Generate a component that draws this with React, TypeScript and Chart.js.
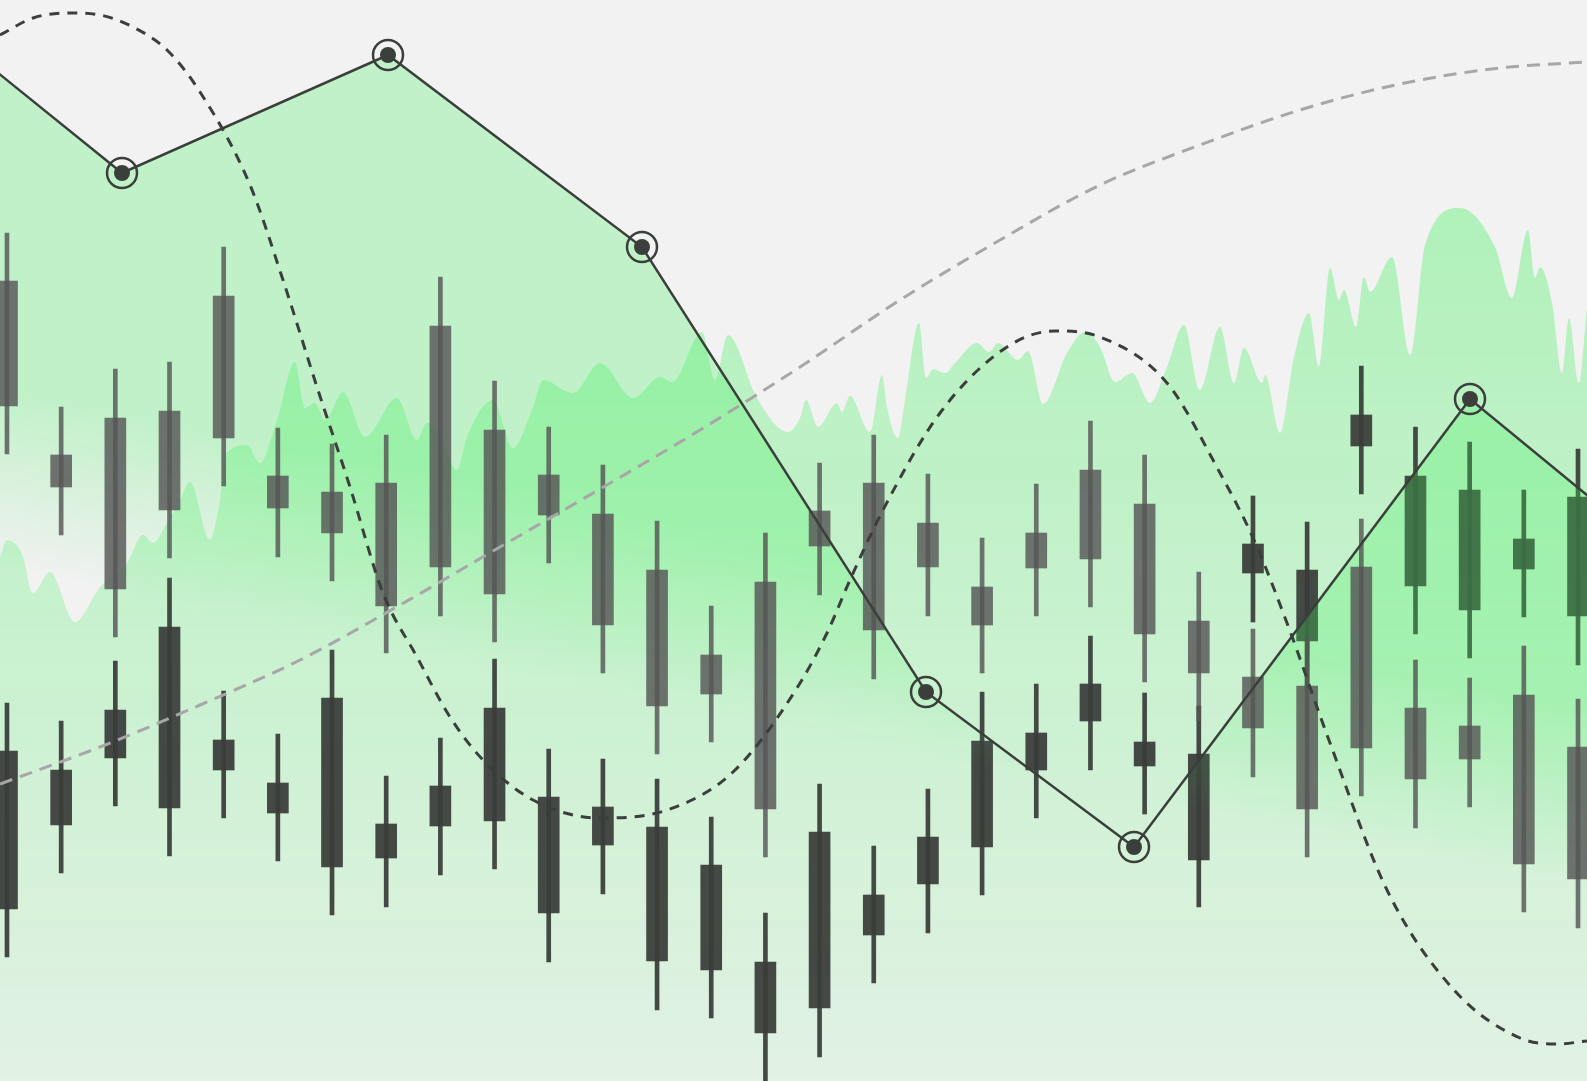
import React, { useEffect, useRef } from 'react';
import { Chart, registerables } from 'chart.js';

Chart.register(...registerables);

// ---- candlestick sessions ----
const sessions = [0, 1, 2, 3, 4, 5, 6, 7, 8, 9, 10, 11, 12, 13, 14, 15, 16, 17, 18, 19, 20, 21, 22, 23, 24, 25, 26, 27, 28, 29];

// upper (grey) candle series
const greyHigh = [84.8, 67.4, 71.2, 71.9, 83.4, 65.3, 63.7, 64.6, 80.4, 70.0, 65.4, 61.6, 56.0, 47.5, 54.8, 61.8, 64.6, 60.7, 54.3, 59.7, 66.0, 62.6, 50.9, 45.2, 44.4, 56.2, 42.1, 40.3, 43.5, 38.2];
const greyOpen = [80.0, 62.6, 66.3, 67.0, 78.5, 60.5, 58.9, 59.8, 75.5, 65.1, 60.6, 56.7, 51.1, 42.6, 49.9, 57.0, 59.8, 55.8, 49.4, 54.8, 61.1, 57.7, 46.0, 40.4, 39.5, 51.4, 37.3, 35.5, 38.6, 33.4];
const greyClose = [67.5, 59.4, 49.2, 57.1, 64.3, 57.3, 54.8, 47.5, 51.4, 48.7, 56.6, 45.6, 37.5, 38.7, 27.2, 53.5, 45.1, 51.4, 45.6, 51.3, 52.2, 44.7, 40.8, 35.3, 27.2, 33.3, 30.2, 32.2, 21.7, 20.2];
const greyLow = [62.7, 54.6, 44.4, 52.3, 59.5, 52.4, 50.0, 42.8, 46.5, 43.9, 51.8, 40.8, 32.7, 33.9, 22.4, 48.6, 40.2, 46.5, 40.8, 46.5, 47.4, 39.9, 36.0, 30.4, 22.4, 28.5, 25.3, 27.4, 16.9, 15.3];

// lower (dark) candle series
const darkHigh = [37.8, 36.0, 42.0, 50.3, 39.0, 34.7, 43.1, 30.5, 34.3, 42.2, 33.2, 32.2, 30.2, 26.4, 16.8, 29.7, 23.5, 29.2, 38.9, 39.7, 44.5, 38.8, 37.5, 58.5, 55.9, 71.5, 65.4, 63.9, 59.1, 63.2];
const darkOpen = [33.0, 31.1, 37.1, 45.4, 34.1, 29.8, 38.3, 25.7, 29.5, 37.3, 28.4, 27.4, 25.4, 21.6, 11.9, 24.9, 18.6, 24.4, 34.0, 34.8, 39.7, 33.9, 32.7, 53.7, 51.1, 66.6, 60.5, 59.1, 54.2, 58.4];
const darkClose = [17.2, 25.6, 32.3, 27.3, 31.1, 26.8, 21.4, 22.3, 25.5, 26.0, 16.8, 23.6, 12.0, 11.1, 4.8, 7.3, 14.6, 19.7, 23.4, 31.1, 36.0, 31.5, 22.1, 50.8, 44.0, 63.5, 49.5, 47.1, 51.2, 46.5];
const darkLow = [12.4, 20.8, 27.5, 22.5, 26.3, 22.0, 16.6, 17.4, 20.6, 21.2, 11.9, 18.7, 7.1, 6.3, -0.5, 2.4, 9.8, 14.8, 18.6, 26.3, 31.1, 26.7, 17.4, 45.9, 39.2, 58.7, 44.7, 42.3, 46.4, 41.6];

// ---- noisy background area ----
const noiseT = [0.0, 0.7, 1.8, 2.3, 3.3, 5.0, 7.5, 10.0, 12.7, 14.3, 15.3, 16.7, 18.0, 19.0, 21.0, 22.0, 22.7, 24.7, 26.0, 27.7, 29.5, 30.5, 31.5, 32.5, 34.3, 36.5, 39.7, 41.7, 42.7, 44.0, 45.7, 46.7, 49.3, 51.3, 53.3, 54.3, 57.3, 60.0, 63.3, 66.0, 67.2, 70.2, 71.5, 72.8, 75.7, 78.8, 80.0, 80.6, 81.8, 83.7, 84.2, 85.0, 87.0, 88.2, 88.7, 89.8, 90.5, 91.9, 92.6, 93.3, 94.5, 95.5, 97.7, 98.9, 99.8, 101.8, 102.8, 104.3, 106.7, 108.5, 110.0, 111.5, 113.2, 115.0, 116.7, 118.4, 120.0, 122.0, 123.4, 124.4, 126.2, 126.5, 128.0, 129.4, 130.9, 131.9, 133.0, 133.9, 134.4, 135.6, 136.4, 137.0, 139.2, 141.0, 142.5, 146.0, 149.5, 151.2, 152.8, 153.5, 154.0, 155.2, 156.2, 156.9, 157.9, 158.7];
const noiseV = [52.4, 54.1, 53.4, 52.4, 48.8, 50.9, 45.9, 49.4, 51.8, 54.6, 53.8, 55.8, 58.1, 59.9, 54.1, 58.1, 62.8, 63.6, 61.8, 66.1, 71.9, 67.3, 67.8, 66.1, 68.9, 64.4, 68.3, 64.1, 65.8, 64.8, 61.1, 64.4, 68.1, 63.3, 67.4, 70.1, 68.8, 71.8, 68.3, 70.4, 69.9, 74.9, 70.1, 74.6, 68.3, 64.9, 66.3, 68.1, 65.4, 67.8, 66.9, 68.5, 64.9, 70.6, 67.4, 64.3, 68.1, 75.8, 70.3, 71.2, 70.8, 71.8, 73.8, 72.9, 73.8, 72.1, 73.0, 67.7, 72.8, 74.9, 73.4, 69.9, 70.8, 67.8, 71.4, 75.6, 69.1, 75.4, 69.8, 73.3, 69.8, 70.6, 64.8, 72.4, 76.8, 71.4, 81.3, 78.1, 79.1, 75.4, 80.4, 78.9, 82.4, 72.6, 83.6, 87.3, 83.4, 78.3, 85.1, 80.3, 81.4, 77.8, 70.8, 76.3, 69.8, 77.4];

// ---- polyline with ringed markers ----
const polyT = [-12.7, 12.2, 38.8, 64.2, 92.6, 113.4, 147.0, 170.0];
const polyV = [110.9, 90.8, 102.6, 83.4, 38.9, 23.4, 68.2, 49.3];

// ---- dark dashed wave ----
const waveT = [0, 3.3, 6.7, 10.0, 13.3, 16.7, 20.0, 25.0, 28.3, 31.7, 35.0, 38.3, 41.7, 45.0, 48.3, 53.3, 60.0, 66.7, 73.3, 79.7, 82.7, 85.0, 88.3, 94.0, 100.7, 105.5, 110.0, 116.7, 122.0, 125.4, 128.7, 133.0, 138.7, 145.4, 152.0, 155.7, 158.7];
const waveV = [104.6, 106.3, 106.8, 106.6, 105.4, 103.1, 98.9, 89.6, 80.1, 69.4, 59.4, 48.8, 42.4, 36.4, 32.1, 28.1, 26.3, 27.1, 30.9, 39.3, 44.8, 50.1, 57.1, 66.8, 73.4, 75.0, 74.4, 69.8, 60.8, 54.1, 45.8, 33.8, 19.1, 9.1, 4.3, 3.7, 4.0];

// ---- grey dashed trend ----
const trendT = [0, 10, 20, 30, 40, 50, 60, 70, 80, 90, 100, 110, 120, 130, 140, 150, 158.7];
const trendV = [29.7, 33.4, 37.6, 42.1, 47.6, 53.4, 59.2, 65.1, 71.4, 78.1, 84.1, 89.6, 93.6, 97.1, 99.7, 101.3, 101.9];

const pts = (t: number[], v: number[]) => t.map((x, i) => ({ x, y: v[i] }));
const range = (lo: number[], hi: number[]) => sessions.map((s, i) => ({ x: s, y: [lo[i], hi[i]] }));

const DARK = '#3b3f3b';
const GREEN = '62,240,90';

export default function App() {
  const ref = useRef<HTMLCanvasElement | null>(null);

  useEffect(() => {
    if (!ref.current) return;

    const noiseFill = (context: any) => {
      const { chart } = context;
      const a = chart.chartArea;
      if (!a) return `rgba(${GREEN},0.25)`;
      const h = a.bottom - a.top;
      const g = chart.ctx.createLinearGradient(0, a.top + 0.185 * h, 0, a.bottom);
      g.addColorStop(0, `rgba(${GREEN},0.37)`);
      g.addColorStop(1, `rgba(${GREEN},0.09)`);
      return g;
    };

    const polyFill = (context: any) => {
      const { chart } = context;
      const a = chart.chartArea;
      if (!a) return `rgba(${GREEN},0.2)`;
      const w = a.right - a.left;
      const h = a.bottom - a.top;
      const g = chart.ctx.createLinearGradient(
        a.left + 0.5109 * w, a.top + 0.5107 * h,
        a.left + 0.4891 * w, a.top + 0.671 * h
      );
      g.addColorStop(0, `rgba(${GREEN},0.27)`);
      g.addColorStop(1, `rgba(${GREEN},0)`);
      return g;
    };

    const chart = new Chart(ref.current, {
      type: 'bar',
      data: {
        datasets: [
          {
            type: 'line',
            order: 0,
            data: pts(polyT, polyV),
            xAxisID: 'x',
            yAxisID: 'y',
            borderColor: DARK,
            borderWidth: 2.5,
            tension: 0,
            fill: false,
            pointRadius: 8,
            pointBackgroundColor: DARK,
            pointBorderWidth: 0,
          } as any,
          {
            type: 'line',
            order: 1,
            data: pts(polyT, polyV),
            xAxisID: 'x',
            yAxisID: 'y',
            showLine: false,
            fill: false,
            pointRadius: 15,
            pointBackgroundColor: 'rgba(0,0,0,0)',
            pointBorderColor: DARK,
            pointBorderWidth: 2.5,
          } as any,
          {
            type: 'line',
            order: 2,
            data: pts(waveT, waveV),
            xAxisID: 'x',
            yAxisID: 'y',
            borderColor: DARK,
            borderWidth: 3,
            borderDash: [10, 8],
            cubicInterpolationMode: 'monotone',
            fill: false,
            pointRadius: 0,
          } as any,
          {
            type: 'line',
            order: 3,
            data: pts(trendT, trendV),
            xAxisID: 'x',
            yAxisID: 'y',
            borderColor: '#a7a7a7',
            borderWidth: 3,
            borderDash: [13, 8],
            cubicInterpolationMode: 'monotone',
            fill: false,
            pointRadius: 0,
          } as any,
          {
            type: 'bar',
            order: 4,
            data: range(greyClose, greyOpen),
            xAxisID: 'xc',
            yAxisID: 'y',
            backgroundColor: 'rgba(86,86,86,0.82)',
            barThickness: 21,
            grouped: false,
          } as any,
          {
            type: 'bar',
            order: 5,
            data: range(greyLow, greyHigh),
            xAxisID: 'xc',
            yAxisID: 'y',
            backgroundColor: 'rgba(86,86,86,0.82)',
            barThickness: 4,
            grouped: false,
          } as any,
          {
            type: 'line',
            order: 6,
            data: pts(polyT, polyV),
            xAxisID: 'x',
            yAxisID: 'y',
            borderWidth: 0,
            borderColor: 'rgba(0,0,0,0)',
            backgroundColor: polyFill,
            fill: 'start',
            tension: 0,
            pointRadius: 0,
          } as any,
          {
            type: 'bar',
            order: 7,
            data: range(darkClose, darkOpen),
            xAxisID: 'xc',
            yAxisID: 'y',
            backgroundColor: 'rgba(58,62,58,0.94)',
            barThickness: 21,
            grouped: false,
          } as any,
          {
            type: 'bar',
            order: 8,
            data: range(darkLow, darkHigh),
            xAxisID: 'xc',
            yAxisID: 'y',
            backgroundColor: 'rgba(58,62,58,0.94)',
            barThickness: 4,
            grouped: false,
          } as any,
          {
            type: 'line',
            order: 9,
            data: pts(noiseT, noiseV),
            xAxisID: 'x',
            yAxisID: 'y',
            borderWidth: 0,
            borderColor: 'rgba(0,0,0,0)',
            backgroundColor: noiseFill,
            fill: 'start',
            cubicInterpolationMode: 'monotone',
            pointRadius: 0,
          } as any,
        ],
      },
      options: {
        animation: false,
        responsive: true,
        maintainAspectRatio: false,
        events: [],
        layout: { padding: 0, autoPadding: false },
        plugins: { legend: { display: false }, tooltip: { enabled: false } },
        scales: {
          xc: { type: 'linear', min: -0.129, max: 29.166, display: false, offset: false },
          x: { type: 'linear', min: 0, max: 158.7, display: false, offset: false },
          y: { type: 'linear', min: 0, max: 108.1, display: false },
        },
      } as any,
    });

    return () => chart.destroy();
  }, []);

  return (
    <div style={{ position: 'fixed', left: 0, top: 0, width: '100vw', height: '100vh', background: '#f2f2f2' }}>
      <canvas ref={ref} />
    </div>
  );
}
